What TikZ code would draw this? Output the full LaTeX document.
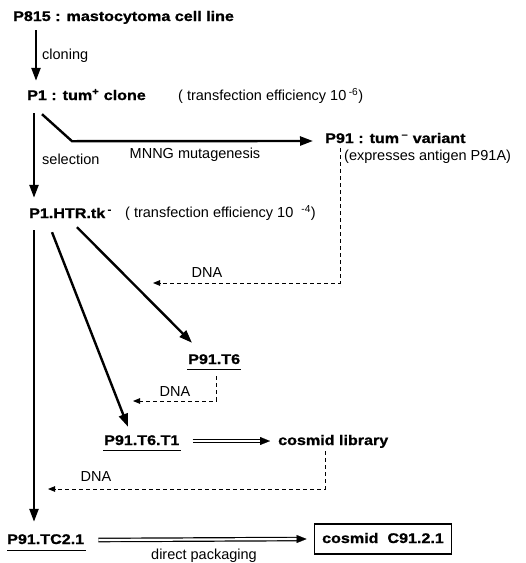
\documentclass[tikz,border=0pt]{standalone}
\usepackage{fontspec}
\setmainfont{Liberation Sans}
\newfontfamily\widesans[FakeStretch=1.15,FakeBold=1]{Liberation Sans}
\usetikzlibrary{arrows.meta}
\begin{document}
\begin{tikzpicture}[x=1pt,y=-1pt,
		cell/.style={anchor=west,inner sep=0pt,font=\widesans\bfseries\fontsize{14}{16}\selectfont,text height=10pt,text depth=2pt},
		note/.style={inner sep=0pt,font=\fontsize{14.5}{17}\selectfont},
		fat/.style={line width=2.4pt,-{Triangle[length=13pt,width=9pt]}},
		dna/.style={line width=0.9pt,dash pattern=on 4pt off 3pt,-{Triangle[length=7pt,width=5.5pt]}},
		dbl/.style={line width=1.2pt,double,double distance=2.2pt},
		dbltip/.style={line width=0.1pt,-{Triangle[length=10pt,width=8pt]}},
		uline/.style={line width=1pt}]
		\useasboundingbox (0,0) rectangle (526,563);

		\node[cell] (p815) at (13,17) {P815 : mastocytoma cell line};
		\node[cell] (p1) at (27,96) {P1 : tum\textsuperscript{+} clone};
		\node[note,anchor=west] (eff6) at (178,96) {( transfection efficiency 10\,\textsuperscript{-6})};
		\node[cell] (p91) at (325,139) {P91 : tum\,\textsuperscript{\textendash}\ variant};
		\node[note,anchor=west] (expr) at (344,157) {(expresses antigen P91A)};
		\node[cell] (htr) at (29,214) {P1.HTR.tk\,\textsuperscript{-}};
		\node[note,anchor=west] (eff4) at (125,213) {( transfection efficiency 10\ \ \textsuperscript{-4})};
		\node[cell] (t6) at (188,360) {P91.T6};
		\node[cell] (t6t1) at (104,441) {P91.T6.T1};
		\node[cell] (lib) at (278,441) {cosmid library};
		\node[cell] (tc) at (7,540) {P91.TC2.1};
		\node[cell,anchor=center,draw,line width=1.8pt,minimum width=137pt,minimum height=30pt] (c912) at (383,539) {cosmid\ \ C91.2.1};

		\coordinate (dna1) at (153,283);
		\coordinate (dna2) at (133,401);
		\coordinate (dna3) at (48,489);

		\draw[fat] ([xshift=23pt,yshift=-7pt]p815.south west) -- ([xshift=9pt,yshift=9pt]p1.north west) node[note,anchor=west,midway,xshift=5pt] (clon) {cloning};
		\draw[fat] ([xshift=7pt,yshift=-11pt]p1.south west) -- ([xshift=5pt,yshift=10pt]htr.north west) node[note,anchor=west,pos=0.55,xshift=7pt] (sel) {selection};
		\draw[fat] ([xshift=15pt,yshift=-12pt]p1.south west) -- ++(30,27) -- ([xshift=-12pt,yshift=-2pt]p91.west);
		\node[note] (mnng) at (195,155) {MNNG mutagenesis};

		\draw[dna] ([xshift=15pt,yshift=-3pt]p91.south west) |- (dna1);
		\node[note] (l1) at (207,273) {DNA};

		\draw[fat] ([xshift=5pt,yshift=-10pt]htr.south west) -- ([xshift=27pt,yshift=12pt]tc.north west);
		\draw[fat] ([xshift=23pt,yshift=-12pt]htr.south west) -- ([xshift=24pt,yshift=8pt]t6t1.north west);
		\draw[fat] ([xshift=48pt,yshift=-7pt]htr.south west) -- ([xshift=4pt,yshift=11pt]t6.north west);

		\draw[uline] ([xshift=-1pt,yshift=-3pt]t6.south west) -- ([xshift=1pt,yshift=-3pt]t6.south east);
		\draw[dna] ([xshift=28pt,yshift=-10pt]t6.south west) |- (dna2);
		\node[note] (l2) at (175,392) {DNA};

		\draw[uline] ([xshift=-1pt,yshift=-3pt]t6t1.south west) -- ([xshift=1pt,yshift=-3pt]t6t1.south east);
		\draw[dbl,shorten >=9pt] ([xshift=13pt]t6t1.east) -- ([xshift=-8pt]lib.west);
		\draw[dbltip] ([xshift=-18pt]lib.west) -- ([xshift=-8pt]lib.west);

		\draw[dna] ([xshift=47pt,yshift=-4pt]lib.south west) |- (dna3);
		\node[note] (l3) at (96,477) {DNA};

		\draw[uline] ([yshift=-4pt]tc.south west) -- ([xshift=2pt,yshift=-4pt]tc.south east);
		\draw[dbl,shorten >=9pt] ([xshift=14pt]tc.east) -- ([xshift=-7pt]c912.west);
		\draw[dbltip] ([xshift=-17pt]c912.west) -- ([xshift=-7pt]c912.west);
		\node[note] (pack) at (204,556) {direct packaging};
	\end{tikzpicture}
\end{document}
